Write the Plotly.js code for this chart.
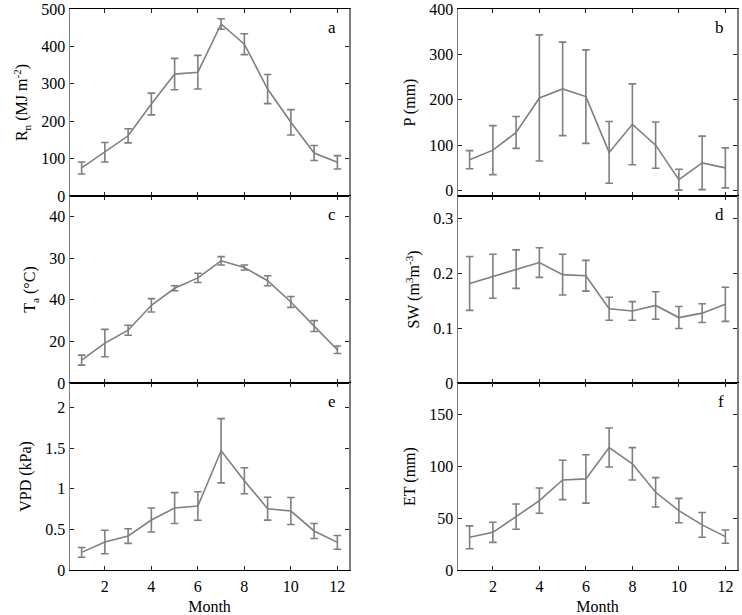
<!DOCTYPE html>
<html>
<head>
<meta charset="utf-8">
<script src="https://cdn.plot.ly/plotly-3.0.1.min.js"></script>
<style>html,body{margin:0;padding:0;background:#fff;}#chart{width:742px;height:615px;}</style>
</head>
<body>
<div id="chart"></div>
<script>
// Month axis
const months = [1,2,3,4,5,6,7,8,9,10,11,12];
const monthTicks = [2,4,6,8,10,12];

// a: net radiation Rn (MJ m-2)
const rnMean = [75,117,161,246,326,331,460,406,286,197,115,90];
const rnErr  = [16,26,19,29,42,45,14,28,39,34,20,18];
// b: precipitation P (mm)
const pMean = [68,89,128,204,224,207,84,146,100,24,61,50];
const pErr  = [20,54,35,139,103,103,68,89,51,23,59,44];
// c: air temperature Ta
const taMean = [5.5,9.6,12.7,18.7,22.8,25.3,29.4,27.8,24.6,19.5,13.7,8.0];
const taErr  = [1.2,3.3,1.2,1.6,0.6,1.1,1.0,0.6,1.2,1.3,1.3,0.9];
const taTickVals = [0,10,20,30,40];
const taTickText = ["0","20","40","30","40"];
// d: soil water SW (m3 m-3)
const swMean = [0.181,0.194,0.207,0.219,0.197,0.195,0.135,0.131,0.141,0.119,0.127,0.143];
const swErr  = [0.049,0.040,0.035,0.027,0.037,0.028,0.021,0.017,0.025,0.020,0.017,0.031];
// e: VPD (kPa)
const vpdMean = [0.217,0.344,0.418,0.615,0.762,0.787,1.467,1.098,0.754,0.725,0.480,0.340];
const vpdErr  = [0.06,0.145,0.09,0.148,0.19,0.176,0.395,0.16,0.141,0.166,0.092,0.084];
const vpdTickVals = [0,0.5,1,1.5,2];
const vpdTickText = ["0","0.5","1","1.5","2"];
// f: ET (mm)
const etMean = [31.5,36.3,51.4,66.8,86.7,87.7,117.9,102.2,74.8,57.2,43.4,32.1];
const etErr  = [11,9.7,12.2,12.2,19,23.3,18.8,15.6,14.1,11.7,11.9,6.4];

const panelLetters = ["a","b","c","d","e","f"];

const W = 742, H = 615;
const gray = '#7f7f7f';
const fontFam = '"Liberation Serif", "Times New Roman", Times, serif';

function trace(y, err, n) {
  const s = n === 1 ? '' : String(n);
  return {
    x: months, y: y, type: 'scatter', mode: 'lines',
    xaxis: 'x' + s, yaxis: 'y' + s,
    line: {color: gray, width: 1.6},
    error_y: {type: 'data', array: err, visible: true, color: gray, thickness: 1.6, width: 3.8},
    showlegend: false, hoverinfo: 'x+y'
  };
}

const data = [
  trace(rnMean, rnErr, 1),
  trace(pMean, pErr, 2),
  trace(taMean, taErr, 3),
  trace(swMean, swErr, 4),
  trace(vpdMean, vpdErr, 5),
  trace(etMean, etErr, 6)
];

const colL = [70/W, 349/W];
const colR = [458/W, 737/W];
const rows = [[1-196/H, 1-9/H],[1-383/H, 1-196/H],[1-570/H, 1-383/H]];

function xax(dom, yAnchor, showLabels) {
  return {
    domain: dom, anchor: yAnchor, range: [0.5, 12.5],
    tickvals: monthTicks, ticktext: monthTicks.map(String),
    showticklabels: showLabels,
    ticks: 'inside', ticklen: 4, tickcolor: '#222', tickwidth: 1,
    ticklabelstandoff: 2,
    showline: true, linecolor: '#000', linewidth: 1, mirror: 'ticks',
    showgrid: false, zeroline: false,
    tickfont: {family: fontFam, size: 16, color: '#000'},
    title: showLabels ? {text: 'Month', font: {family: fontFam, size: 16, color: '#000'}, standoff: 8} : {text: ''}
  };
}
function yax(dom, xAnchor, range, title, extra) {
  const o = {
    domain: dom, anchor: xAnchor, range: range,
    ticks: 'inside', ticklen: 4, tickcolor: '#222', tickwidth: 1,
    showline: true, linecolor: '#808080', linewidth: 1.5, mirror: 'ticks',
    showgrid: false, zeroline: false,
    tickfont: {family: fontFam, size: 16, color: '#000'},
    title: {text: title, font: {family: fontFam, size: 16, color: '#000'}, standoff: 9}
  };
  return Object.assign(o, extra || {});
}

const layout = {
  width: W, height: H,
  margin: {l: 0, r: 0, t: 0, b: 0},
  paper_bgcolor: '#fff', plot_bgcolor: 'rgba(0,0,0,0)',
  font: {family: fontFam, size: 16, color: '#000'},
  showlegend: false,
  xaxis:  xax(colL, 'y', false),
  xaxis2: xax(colR, 'y2', false),
  xaxis3: xax(colL, 'y3', false),
  xaxis4: xax(colR, 'y4', false),
  xaxis5: xax(colL, 'y5', true),
  xaxis6: xax(colR, 'y6', true),
  yaxis:  yax(rows[0], 'x',  [0, 500], 'R<sub>n</sub> (MJ m<sup>-2</sup>)', {dtick: 100, tick0: 0}),
  yaxis2: yax(rows[0], 'x2', [-12, 400], 'P (mm)', {dtick: 100, tick0: 0}),
  yaxis3: yax(rows[1], 'x3', [0, 45], 'T<sub>a</sub> (°C)', {tickvals: taTickVals, ticktext: taTickText}),
  yaxis4: yax(rows[1], 'x4', [0, 0.34], 'SW (m<sup>3</sup>m<sup>-3</sup>)', {dtick: 0.1, tick0: 0}),
  yaxis5: yax(rows[2], 'x5', [0, 2.3], 'VPD (kPa)', {tickvals: vpdTickVals, ticktext: vpdTickText}),
  yaxis6: yax(rows[2], 'x6', [0, 180], 'ET (mm)', {dtick: 50, tick0: 0}),
  annotations: panelLetters.map((L, i) => {
    const s = i === 0 ? '' : String(i + 1);
    return {
      text: L, showarrow: false,
      xref: 'x' + s + ' domain', yref: 'y' + s + ' domain',
      x: 1, y: 1, xanchor: 'right', yanchor: 'top',
      xshift: -11, yshift: -7,
      font: {family: fontFam, size: 17, color: '#000'}
    };
  })
};

Plotly.newPlot('chart', data, layout, {staticPlot: true, displayModeBar: false});
</script>
</body>
</html>
